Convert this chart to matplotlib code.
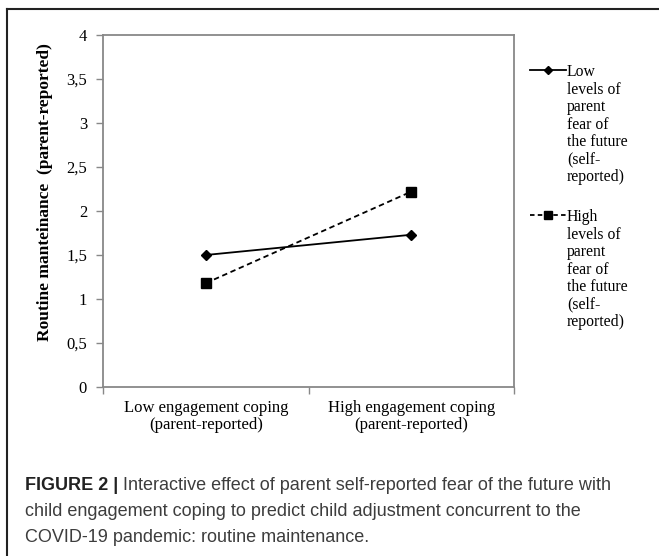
import matplotlib
matplotlib.use("Agg")
import matplotlib.pyplot as plt
from matplotlib.lines import Line2D

categories = ["Low engagement coping\n(parent-reported)", "High engagement coping\n(parent-reported)"]
low_fear = [1.50, 1.73]
high_fear = [1.18, 2.22]
ytick_vals = [0, 0.5, 1, 1.5, 2, 2.5, 3, 3.5, 4]
ytick_labels = ["0", "0,5", "1", "1,5", "2", "2,5", "3", "3,5", "4"]
legend_low = "Low\nlevels of\nparent\nfear of\nthe future\n(self-\nreported)"
legend_high = "High\nlevels of\nparent\nfear of\nthe future\n(self-\nreported)"
ylabel = "Routine manteinance  (parent-reported)"
caption_bold = "FIGURE 2 |"
caption_rest = [" Interactive effect of parent self-reported fear of the future with",
                "child engagement coping to predict child adjustment concurrent to the",
                "COVID-19 pandemic: routine maintenance."]

W, H = 659, 556
fig = plt.figure(figsize=(W / 100, H / 100), dpi=100)
serif = "Liberation Serif"
sans = "Liberation Sans"

def fx(px):
    return px / W

def fy(py):
    return 1 - py / H

ax = fig.add_axes([fx(103), fy(387), fx(514) - fx(103), fy(35) - fy(387)])
xpos = [0.5, 1.5]
ax.plot(xpos, low_fear, color="black", lw=1.3, marker="D", ms=5, mfc="black", mec="black")
ax.plot(xpos, high_fear, color="black", lw=1.3, ls=(0, (3, 2)), marker="s", ms=7, mfc="black", mec="black")
ax.set_xlim(0, 2)
ax.set_ylim(0, 4)
ax.set_xticks(xpos)
ax.set_xticklabels(categories, fontsize=12, family=serif, linespacing=1.12)
ax.set_xticks([0, 1, 2], minor=True)
ax.tick_params(axis="x", which="major", length=0, pad=9)
ax.tick_params(axis="x", which="minor", length=5, color="#888888", width=1)
ax.set_yticks(ytick_vals)
ax.set_yticklabels(ytick_labels, fontsize=12, family=serif)
ax.tick_params(axis="y", length=5, color="#888888", width=1, pad=6.5)
for s in ax.spines.values():
    s.set_color("#888888")
    s.set_linewidth(1.3)

fig.text(fx(45), fy(192), ylabel, rotation=90, ha="center", va="center",
         fontsize=12.5, fontweight="bold", family=serif)

# legend
for y, ls, mk, ms, lab in [(70, "-", "D", 4, legend_low), (215, (0, (2.5, 1.8)), "s", 6, legend_high)]:
    fig.add_artist(Line2D([fx(530), fx(566)], [fy(y), fy(y)], color="black", lw=1.3, ls=ls,
                          transform=fig.transFigure))
    fig.add_artist(Line2D([fx(548)], [fy(y)], marker=mk, ms=ms, color="black",
                          transform=fig.transFigure))
    fig.text(fx(567), fy(y - 6), lab, ha="left", va="top", fontsize=11.3,
             family=serif, linespacing=1.13)

# outer frame
fig.add_artist(Line2D([fx(7), fx(7)], [fy(9), 0], color="#222222", lw=1.5, transform=fig.transFigure))
fig.add_artist(Line2D([fx(7), 1], [fy(9), fy(9)], color="#222222", lw=1.5, transform=fig.transFigure))

# caption
cap_size = 13
cap_color = "#3d3d3d"
fig.canvas.draw()
renderer = fig.canvas.get_renderer()
tb = fig.text(fx(25), fy(485), caption_bold, ha="left", va="center", fontsize=cap_size,
              fontweight="bold", family=sans, color="#222222")
bb = tb.get_window_extent(renderer)
x_after = bb.x1 / W
fig.text(x_after, fy(485), caption_rest[0], ha="left", va="center", fontsize=cap_size,
         family=sans, color=cap_color)
fig.text(fx(25), fy(511), caption_rest[1], ha="left", va="center", fontsize=cap_size,
         family=sans, color=cap_color)
fig.text(fx(25), fy(537), caption_rest[2], ha="left", va="center", fontsize=cap_size,
         family=sans, color=cap_color)

fig.savefig("out.png", dpi=100)
